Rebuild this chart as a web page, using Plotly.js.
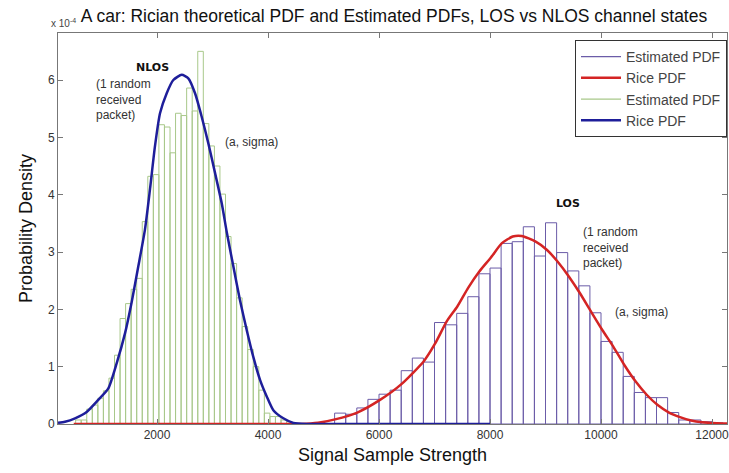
<!DOCTYPE html>
<html>
<head>
<meta charset="utf-8">
<script src="https://cdn.plot.ly/plotly-3.0.1.min.js"></script>
<style>html,body{margin:0;padding:0;background:#fff;}#chart{width:729px;height:473px;}</style>
</head>
<body>
<div id="chart"></div>
<script>
// ---- Data (densities in units of 1e-4) ----
var losBinCenters = [5300,5500,5700,5900,6100,6300,6500,6700,6900,7100,7300,7500,7700,7900,8100,8300,8500,8700,8900,9100,9300,9500,9700,9900,10100,10300,10500,10700,10900,11100,11300,11500,11700,11900,12100];
var losHeights = [0.19,0.17,0.28,0.43,0.52,0.59,0.93,1.15,1.08,1.77,1.73,1.93,2.22,2.62,2.72,3.15,3.18,3.44,2.93,3.51,2.99,2.67,2.41,1.94,1.44,1.25,0.83,0.55,0.46,0.46,0.20,0.07,0.07,0.04,0.02];
var losBinWidth = 200;

var nlosBinCenters = [584,684,784,884,984,1084,1184,1284,1384,1484,1584,1684,1784,1884,1984,2084,2184,2284,2384,2484,2584,2684,2784,2884,2984,3084,3184,3284,3384,3484,3584,3684,3784,3884,3984,4084,4184,4284,4384];
var nlosHeights = [0.07,0.07,0.26,0.33,0.45,0.58,0.80,1.20,1.84,2.10,2.35,2.54,3.53,4.32,4.35,5.22,5.18,4.73,5.42,5.38,5.86,5.46,6.50,5.24,4.85,4.50,4.01,3.27,2.80,2.20,1.70,1.30,1.00,0.59,0.19,0.13,0.13,0.07,0.04];
var nlosBinWidth = 100;

var riceLosX = [500,1000,2000,3000,4000,4600,4900,5207,5609,6018,6409,6811,7009,7220,7411,7609,7807,8013,8211,8409,8571,8823,9022,9220,9423,9621,9820,10023,10221,10420,10625,10823,11021,11225,11423,11622,11825,12198,12270];
var riceLosY = [0,0,0,0,0,0,0.02,0.08,0.20,0.42,0.70,1.10,1.40,1.79,2.05,2.38,2.66,2.90,3.15,3.27,3.28,3.18,3.04,2.83,2.57,2.28,1.96,1.64,1.35,1.03,0.74,0.51,0.33,0.20,0.12,0.06,0.03,0.01,0.01];

var riceNlosX = [216,342,523,733,942,1123,1274,1423,1544,1663,1784,1874,1964,2054,2175,2294,2445,2564,2685,2805,2924,3045,3166,3256,3375,3495,3616,3735,3856,3977,4096,4276,4456,4697,5000,6000,7000,8000];
var riceNlosY = [0.02,0.04,0.10,0.21,0.42,0.62,1.06,1.58,2.13,2.75,3.40,4.10,4.85,5.42,5.77,6.00,6.09,6.03,5.77,5.36,4.90,4.38,3.85,3.35,2.75,2.16,1.64,1.17,0.77,0.48,0.24,0.10,0.02,0.00,0,0,0,0];

var xTickVals = [2000,4000,6000,8000,10000,12000];
var xTickText = ['2000','4000','6000','8000','10000','12000'];
var yTickVals = [0,1,2,3,4,5,6];
var yTickText = ['0','1','2','3','4','5','6'];
var seriesNames = ['Estimated PDF','Rice PDF','Estimated PDF','Rice PDF'];

var cLos = '#6b5ca8', cRiceLos = '#d42424', cNlos = '#a8c88a', cRiceNlos = '#1e1e9a';

var traces = [
  {type:'bar', name:seriesNames[0], x:losBinCenters, y:losHeights, width:losBinWidth, showlegend:false,
   marker:{color:'rgba(0,0,0,0)', line:{color:cLos, width:1}}},
  {type:'bar', name:seriesNames[2], x:nlosBinCenters, y:nlosHeights, width:nlosBinWidth, showlegend:false,
   marker:{color:'rgba(0,0,0,0)', line:{color:cNlos, width:1}}},
  {type:'scatter', mode:'lines', name:seriesNames[1], x:riceLosX, y:riceLosY, showlegend:false,
   line:{color:cRiceLos, width:2.5, shape:'spline', smoothing:0.6}},
  {type:'scatter', mode:'lines', name:seriesNames[3], x:riceNlosX, y:riceNlosY, showlegend:false,
   line:{color:cRiceNlos, width:2.5, shape:'spline', smoothing:0.6}},
  // legend entries (line samples, as in the original legend)
  {type:'scatter', mode:'lines', name:seriesNames[0], x:[null], y:[null], line:{color:cLos, width:1.2}, legendrank:1},
  {type:'scatter', mode:'lines', name:seriesNames[1], x:[null], y:[null], line:{color:cRiceLos, width:2.5}, legendrank:2},
  {type:'scatter', mode:'lines', name:seriesNames[2], x:[null], y:[null], line:{color:cNlos, width:1.2}, legendrank:3},
  {type:'scatter', mode:'lines', name:seriesNames[3], x:[null], y:[null], line:{color:cRiceNlos, width:2.5}, legendrank:4}
];

function px(x){return (x-58)/669;}
function py(y){return (424-y)/391;}
var txt = {family:'Liberation Sans, Arial, sans-serif', size:12, color:'#333'};
var bold = {family:'DejaVu Sans, sans-serif', size:11, color:'#111'};
var sans = 'Liberation Sans, Arial, sans-serif';

var layout = {
  width:729, height:473,
  margin:{l:58, r:2, t:33, b:49},
  paper_bgcolor:'#fff', plot_bgcolor:'#fff',
  barmode:'overlay',
  showlegend:true,
  title:{text:'A car: Rician theoretical PDF and Estimated PDFs, LOS vs NLOS channel states',
         x:0.5405, xanchor:'center', xref:'container', y:0.966, yanchor:'middle', yref:'container',
         font:{family:sans, size:17.5, color:'#111'}},
  xaxis:{range:[216,12270], tickvals:xTickVals, ticktext:xTickText, ticks:'inside', ticklen:5, tickcolor:'#777',
         ticklabeloverflow:'allow',
         showline:true, linecolor:'#777', linewidth:1, mirror:'ticks', showgrid:false, zeroline:false,
         tickfont:{family:sans, size:12, color:'#333'},
         title:{text:'Signal Sample Strength', font:{family:sans, size:18, color:'#111'}, standoff:6}},
  yaxis:{range:[0,6.82], tickvals:yTickVals, ticktext:yTickText, ticks:'inside', ticklen:5, tickcolor:'#777',
         showline:true, linecolor:'#777', linewidth:1, mirror:'ticks', showgrid:false, zeroline:false,
         tickfont:{family:sans, size:12, color:'#333'},
         title:{text:'Probability Density', font:{family:sans, size:18, color:'#111'}, standoff:10}},
  legend:{x:1, xanchor:'right', y:0.982, yanchor:'top', bgcolor:'#fff', bordercolor:'#333', borderwidth:1,
          font:{family:sans, size:14, color:'#444'}, itemwidth:40, tracegroupgap:0},
  annotations:[
    {xref:'paper', yref:'paper', x:px(49), y:py(23), xanchor:'left', yanchor:'middle', showarrow:false,
     text:'x 10<sup>-4</sup>', font:{family:sans, size:10, color:'#444'}},
    {xref:'paper', yref:'paper', x:px(152), y:py(67), xanchor:'center', yanchor:'middle', showarrow:false, text:'<b>NLOS</b>', font:bold},
    {xref:'paper', yref:'paper', x:px(94), y:py(100), xanchor:'left', yanchor:'middle', showarrow:false, align:'left',
     text:'(1 random<br>received<br>packet)', font:txt},
    {xref:'paper', yref:'paper', x:px(223), y:py(142), xanchor:'left', yanchor:'middle', showarrow:false, text:'(a, sigma)', font:txt},
    {xref:'paper', yref:'paper', x:px(568), y:py(203), xanchor:'center', yanchor:'middle', showarrow:false, text:'<b>LOS</b>', font:bold},
    {xref:'paper', yref:'paper', x:px(581), y:py(247), xanchor:'left', yanchor:'middle', showarrow:false, align:'left',
     text:'(1 random<br>received<br>packet)', font:txt},
    {xref:'paper', yref:'paper', x:px(613), y:py(312), xanchor:'left', yanchor:'middle', showarrow:false, text:'(a, sigma)', font:txt}
  ]
};

Plotly.newPlot('chart', traces, layout, {displayModeBar:false, staticPlot:true});
</script>
</body>
</html>
